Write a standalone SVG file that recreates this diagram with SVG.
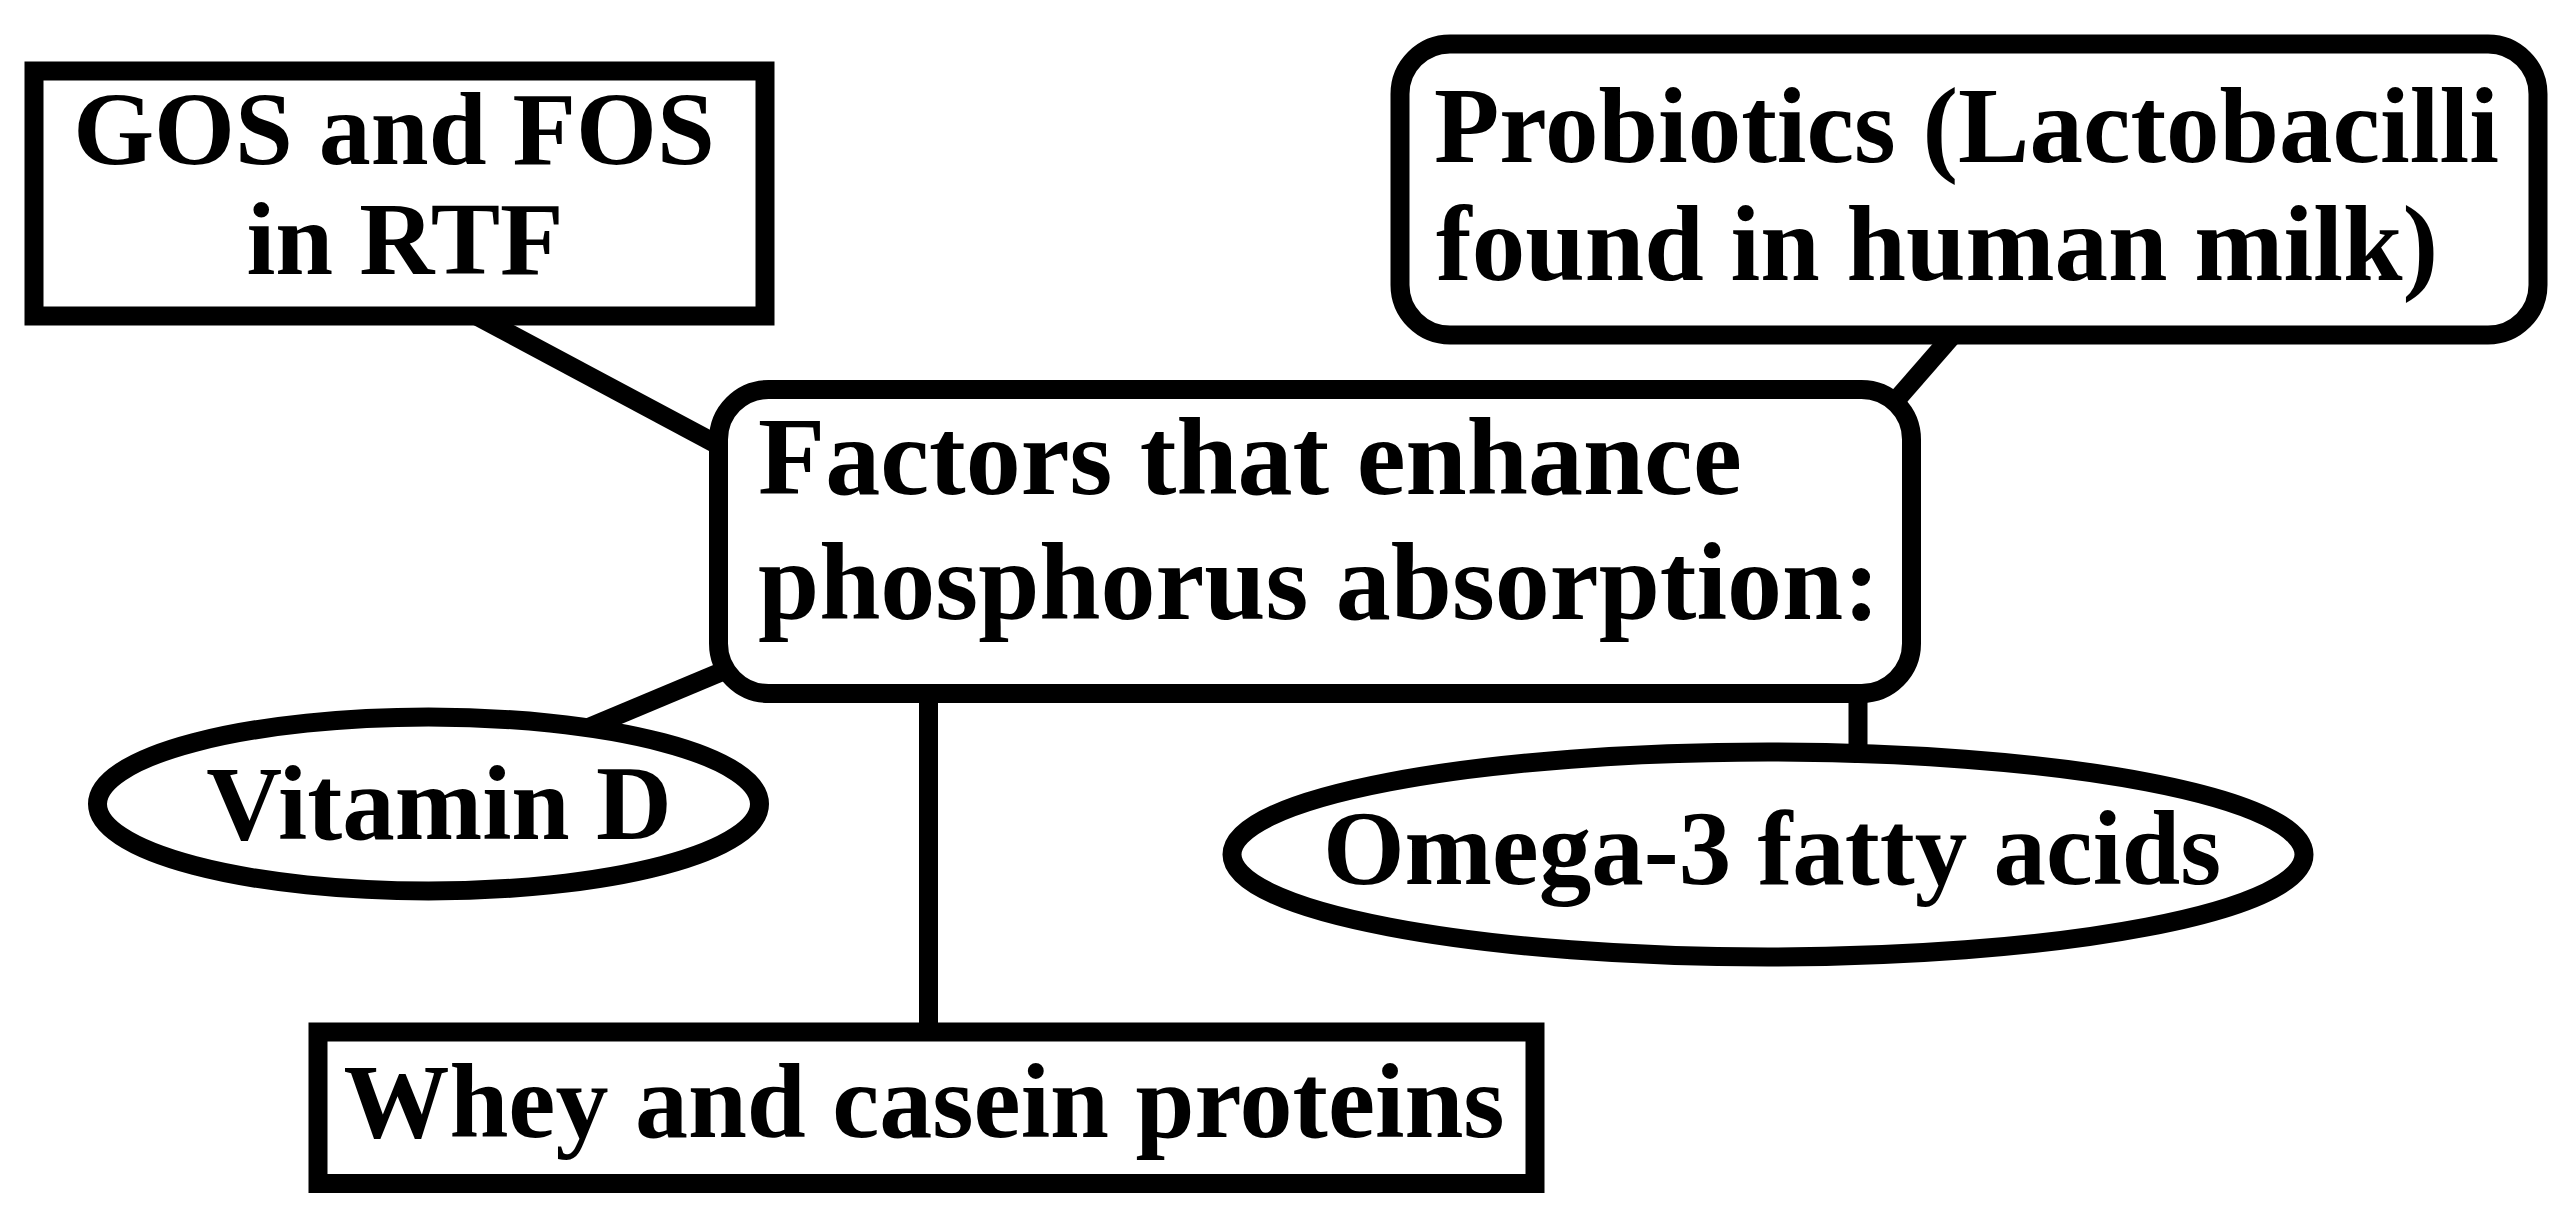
<svg xmlns="http://www.w3.org/2000/svg" width="2571" height="1218" viewBox="0 0 2571 1218">
  <style>
    .shape { fill: #ffffff; stroke: #000000; stroke-width: 19; }
    .conn { stroke: #000000; stroke-width: 19; fill: none; }
    .lbl { font-family: "Liberation Serif", "Times New Roman", serif; font-weight: bold; fill: #000000; }
  </style>
  <rect width="2571" height="1218" fill="#ffffff"/>
  <g id="connectors">
    <line class="conn" x1="460" y1="307" x2="735" y2="454"/>
    <line class="conn" x1="1966" y1="320" x2="1878" y2="421"/>
    <line class="conn" x1="585" y1="729" x2="745" y2="662"/>
    <line class="conn" x1="928.5" y1="690" x2="928.5" y2="1035"/>
    <line class="conn" x1="1858" y1="690" x2="1858" y2="760"/>
  </g>
  <g id="node-gos">
    <rect class="shape" x="34" y="71" width="731" height="245"/>
    <text class="lbl" font-size="104" x="394" y="164" text-anchor="middle">GOS and FOS</text>
    <text class="lbl" font-size="104" x="405" y="274" text-anchor="middle">in RTF</text>
  </g>
  <g id="node-probiotics">
    <rect class="shape" x="1400" y="44" width="1138" height="291" rx="50" ry="50"/>
    <text class="lbl" font-size="107" x="1434" y="162">Probiotics (Lactobacilli</text>
    <text class="lbl" font-size="107" x="1436" y="280">found in human milk)</text>
  </g>
  <g id="node-main">
    <rect class="shape" x="718.5" y="389.5" width="1193" height="304" rx="50" ry="50"/>
    <text class="lbl" font-size="110" x="758" y="494">Factors that enhance</text>
    <text class="lbl" font-size="110" x="758" y="619">phosphorus absorption:</text>
  </g>
  <g id="node-vitamin">
    <ellipse class="shape" cx="428.5" cy="804" rx="331" ry="87"/>
    <text class="lbl" font-size="105" x="439" y="839" text-anchor="middle">Vitamin D</text>
  </g>
  <g id="node-whey">
    <rect class="shape" x="318" y="1032" width="1217" height="151.5"/>
    <text class="lbl" font-size="106" x="924" y="1137" text-anchor="middle">Whey and casein proteins</text>
  </g>
  <g id="node-omega">
    <ellipse class="shape" cx="1768" cy="854.5" rx="536" ry="102.5"/>
    <text class="lbl" font-size="105" x="1772" y="884" text-anchor="middle">Omega-3 fatty acids</text>
  </g>
</svg>
